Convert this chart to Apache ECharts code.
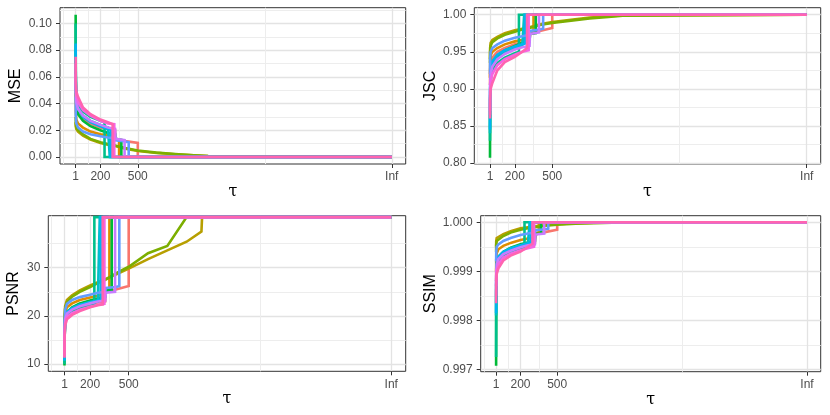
<!DOCTYPE html>
<html>
<head>
<meta charset="utf-8">
<script src="https://cdn.jsdelivr.net/npm/echarts@6/dist/echarts.min.js"></script>
<style>html,body{margin:0;padding:0;background:#fff}#c{width:830px;height:415px}</style>
</head>
<body>
<div id="c"></div>
<script>
// ---------------- DATA ----------------
const TAU_GRID = [1, 2, 6, 20, 60, 120, 200, 260, 318, 322, 400, 500, 650, 800, 950, 1065];
const TAU_INF = 2540;
const xMajorTicks = [1, 200, 500, TAU_INF];
const xMinorTicks = [-98.5, 100.5, 350, 1520];
const seriesNames = ['m1','m2','m3','m4','m5','m6','m7','m8','m9','m10','m11','m12'];
const jumpTau = [500, 350, 1070, 1070, 368, 233, 275, 282, 427, 394, 311, 298];

const mseVals = [
  [0.058, 0.046, 0.039, 0.034, 0.029, 0.025, 0.022, 0.021, 0.020, 0.0135, 0.012, 0.0105],
  [0.048, 0.034, 0.028, 0.025, 0.022, 0.019, 0.017, 0.016, 0.015, 0.013, 0.0125],
  [0.026, 0.023, 0.021, 0.019, 0.016, 0.013, 0.0105, 0.0092, 0.0082, 0.0080, 0.0062, 0.0045, 0.0030, 0.0020, 0.0012, 0.0006, 0.0004],
  [0.030, 0.025, 0.022, 0.020, 0.017, 0.0135, 0.011, 0.0096, 0.0086, 0.0084, 0.0066, 0.0048, 0.0032, 0.0022, 0.0013, 0.0007, 0.0005],
  [0.1065, 0.060, 0.040, 0.032, 0.027, 0.023, 0.020, 0.018, 0.017, 0.0135, 0.0128],
  [0.100, 0.062, 0.047, 0.040, 0.034, 0.030, 0.027, 0.026],
  [0.080, 0.052, 0.042, 0.036, 0.031, 0.027, 0.024, 0.022, 0.0215],
  [0.085, 0.055, 0.043, 0.036, 0.030, 0.026, 0.023, 0.021, 0.0205],
  [0.045, 0.031, 0.025, 0.022, 0.019, 0.017, 0.0155, 0.0145, 0.014, 0.0125, 0.0115, 0.011],
  [0.062, 0.048, 0.041, 0.036, 0.031, 0.027, 0.024, 0.022, 0.021, 0.0135, 0.0125],
  [0.070, 0.054, 0.046, 0.041, 0.035, 0.031, 0.027, 0.025, 0.0245],
  [0.075, 0.057, 0.049, 0.045, 0.037, 0.032, 0.028, 0.026, 0.0245]
];
const jscVals = [
  [0.905, 0.925, 0.935, 0.942, 0.950, 0.955, 0.960, 0.962, 0.964, 0.975, 0.978, 0.982],
  [0.915, 0.935, 0.945, 0.950, 0.955, 0.960, 0.964, 0.966, 0.968, 0.974, 0.975],
  [0.940, 0.955, 0.962, 0.966, 0.970, 0.975, 0.979, 0.981, 0.983, 0.983, 0.987, 0.990, 0.993, 0.996, 0.998, 0.999, 0.9995],
  [0.935, 0.950, 0.958, 0.963, 0.968, 0.973, 0.977, 0.980, 0.982, 0.982, 0.986, 0.989, 0.992, 0.995, 0.997, 0.9985, 0.999],
  [0.807, 0.880, 0.920, 0.935, 0.945, 0.952, 0.958, 0.962, 0.964, 0.974, 0.975],
  [0.830, 0.885, 0.910, 0.925, 0.935, 0.942, 0.948, 0.950],
  [0.840, 0.895, 0.920, 0.932, 0.942, 0.949, 0.955, 0.958, 0.959],
  [0.845, 0.900, 0.925, 0.937, 0.946, 0.952, 0.957, 0.960, 0.961],
  [0.920, 0.940, 0.950, 0.955, 0.960, 0.965, 0.969, 0.971, 0.973, 0.978, 0.980, 0.981],
  [0.870, 0.905, 0.920, 0.930, 0.940, 0.947, 0.953, 0.956, 0.958, 0.974, 0.976],
  [0.865, 0.895, 0.910, 0.920, 0.932, 0.940, 0.946, 0.950, 0.952],
  [0.860, 0.885, 0.900, 0.908, 0.925, 0.936, 0.943, 0.950, 0.955]
];
const psnrVals = [
  [12.4, 16.5, 18.5, 20.0, 21.0, 21.8, 22.5, 22.8, 23.0, 25.0, 25.5, 26.2],
  [13.0, 18.0, 20.5, 21.8, 22.6, 23.3, 23.8, 24.2, 24.5, 25.5, 25.7],
  [15.8, 20.0, 22.0, 23.3, 24.3, 25.3, 26.3, 27.0, 27.6, 27.7, 28.6, 29.8, 31.8, 33.6, 35.4, 37.5, 37.8],
  [15.2, 19.5, 21.5, 22.8, 24.0, 25.0, 26.0, 26.8, 27.5, 27.6, 28.8, 30.2, 33.0, 34.5, 40.5, 40.5, 40.5],
  [9.7, 15.5, 19.0, 20.8, 21.8, 22.6, 23.2, 23.6, 24.0, 25.2, 25.4],
  [10.0, 15.5, 18.5, 20.0, 20.8, 21.5, 22.0, 22.3],
  [10.9, 16.0, 19.0, 20.5, 21.3, 22.0, 22.6, 23.0, 23.1],
  [10.7, 16.2, 19.3, 20.8, 21.6, 22.3, 22.9, 23.2, 23.3],
  [13.5, 19.0, 21.3, 22.5, 23.3, 23.9, 24.4, 24.8, 25.0, 25.8, 26.0, 26.2],
  [12.0, 16.8, 19.3, 20.5, 21.3, 22.0, 22.6, 23.0, 23.2, 24.8, 25.0],
  [11.5, 16.0, 18.5, 19.8, 20.6, 21.3, 21.9, 22.3, 22.5],
  [11.3, 15.5, 18.0, 19.3, 20.2, 21.0, 21.8, 22.2, 22.4]
];
const ssimVals = [
  [0.99880, 0.99905, 0.99918, 0.99928, 0.99938, 0.99946, 0.99953, 0.99956, 0.99958, 0.99975, 0.99980, 0.99985],
  [0.99900, 0.99925, 0.99937, 0.99945, 0.99952, 0.99958, 0.99964, 0.99967, 0.99969, 0.99978, 0.99979],
  [0.99950, 0.99962, 0.99968, 0.99971, 0.99976, 0.99982, 0.99988, 0.99990, 0.99992, 0.99992, 0.99994, 0.99996, 0.99998, 0.99999, 0.999995, 0.999998, 0.999999],
  [0.99940, 0.99955, 0.99962, 0.99966, 0.99972, 0.99979, 0.99985, 0.99988, 0.99990, 0.99990, 0.99993, 0.99995, 0.99997, 0.99998, 0.99999, 0.999995, 0.999997],
  [0.99707, 0.99870, 0.99915, 0.99930, 0.99940, 0.99948, 0.99955, 0.99959, 0.99962, 0.99976, 0.99977],
  [0.99725, 0.99860, 0.99900, 0.99918, 0.99930, 0.99938, 0.99945, 0.99947],
  [0.99810, 0.99880, 0.99910, 0.99925, 0.99935, 0.99942, 0.99950, 0.99954, 0.99955],
  [0.99815, 0.99890, 0.99918, 0.99930, 0.99940, 0.99947, 0.99953, 0.99957, 0.99958],
  [0.99920, 0.99940, 0.99950, 0.99955, 0.99962, 0.99968, 0.99974, 0.99977, 0.99979, 0.99984, 0.99986, 0.99987],
  [0.99870, 0.99900, 0.99915, 0.99925, 0.99935, 0.99942, 0.99949, 0.99953, 0.99955, 0.99975, 0.99977],
  [0.99850, 0.99885, 0.99902, 0.99915, 0.99928, 0.99936, 0.99943, 0.99947, 0.99950],
  [0.99835, 0.99875, 0.99895, 0.99906, 0.99922, 0.99932, 0.99940, 0.99950, 0.99956]
];
const perfectVals = [0, 1, 40.5, 1];

const mseTicks = [0, 0.02, 0.04, 0.06, 0.08, 0.10];
const mseMinor = [0.01, 0.03, 0.05, 0.07, 0.09, 0.11];
const jscTicks = [0.80, 0.85, 0.90, 0.95, 1.00];
const jscMinor = [0.825, 0.875, 0.925, 0.975];
const psnrTicks = [10, 20, 30];
const psnrMinor = [15, 25, 35];
const ssimTicks = [0.997, 0.998, 0.999, 1.000];
const ssimMinor = [0.9975, 0.9985, 0.9995];

// ---------------- STYLE ----------------
const colors = ['#F8766D','#DE8C00','#B79F00','#7CAE00','#00BA38','#00C08B','#00BFC4','#00B4F0','#619CFF','#C77CFF','#F564E3','#FF64B0'];
const FONT = 'Liberation Sans, Arial, sans-serif';
const X_MIN = -124.8, X_MAX = 2652;
const MAJOR_GRID = {color:'#E3E3E3', width:1.3};
const MINOR_GRID = {color:'#EDEDED', width:1};

const panels = [
  {name:'MSE', vals:mseVals, perfect:perfectVals[0], ticks:mseTicks, minor:mseMinor, ymin:-0.0053, ymax:0.1118, fmt:v=>v.toFixed(2), grid:{left:60, top:7.7, width:345.7, height:156.3}, gap:36},
  {name:'JSC', vals:jscVals, perfect:perfectVals[1], ticks:jscTicks, minor:jscMinor, ymin:0.7986, ymax:1.00944, fmt:v=>v.toFixed(2), grid:{left:474.3, top:7.7, width:346.4, height:156.3}, gap:35},
  {name:'PSNR', vals:psnrVals, perfect:perfectVals[2], ticks:psnrTicks, minor:psnrMinor, ymin:8.5, ymax:40.8, fmt:v=>String(v), grid:{left:48.3, top:215.7, width:357.4, height:155.6}, gap:27},
  {name:'SSIM', vals:ssimVals, perfect:perfectVals[3], ticks:ssimTicks, minor:ssimMinor, ymin:0.996951, ymax:1.000135, fmt:v=>v.toFixed(3), grid:{left:480.7, top:215.7, width:340, height:156}, gap:41}
];

function buildPath(vals, j, perfect) {
  const pts = [];
  for (let i = 0; i < vals.length - 1; i++) pts.push([TAU_GRID[i], vals[i]]);
  pts.push([j, vals[vals.length - 1]]);
  pts.push([j, perfect]);
  pts.push([TAU_INF, perfect]);
  return pts;
}

const grids = [], xAxes = [], yAxes = [], series = [];
panels.forEach((p, g) => {
  grids.push(Object.assign({show:true, borderColor:'#333333', borderWidth:1, backgroundColor:'transparent'}, p.grid));
  xAxes.push({
    type:'value', gridIndex:g, min:X_MIN, max:X_MAX, position:'bottom',
    axisLine:{show:false, onZero:false},
    axisTick:{show:true, customValues:xMajorTicks, length:4, lineStyle:{color:'#333333', width:1}},
    axisLabel:{customValues:xMajorTicks, formatter:v => (v === TAU_INF ? 'Inf' : String(v)), color:'#4D4D4D', fontSize:12, margin:7, fontFamily:FONT},
    splitLine:{show:true, lineStyle:MAJOR_GRID},
    name:'τ', nameLocation:'middle', nameGap:20,
    nameTextStyle:{color:'#000', fontSize:16, fontFamily:'DejaVu Serif, serif'}
  });
  xAxes.push({
    type:'value', gridIndex:g, min:X_MIN, max:X_MAX, position:'top',
    axisLine:{show:false, onZero:false},
    axisTick:{show:false, customValues:xMinorTicks},
    axisLabel:{show:false, customValues:xMinorTicks},
    splitLine:{show:true, lineStyle:MINOR_GRID}
  });
  yAxes.push({
    type:'value', gridIndex:g, min:p.ymin, max:p.ymax, position:'left',
    axisLine:{show:false, onZero:false},
    axisTick:{show:true, customValues:p.ticks, length:4, lineStyle:{color:'#333333', width:1}},
    axisLabel:{customValues:p.ticks, formatter:p.fmt, color:'#4D4D4D', fontSize:12, margin:8, fontFamily:FONT},
    splitLine:{show:true, lineStyle:MAJOR_GRID},
    name:p.name, nameLocation:'middle', nameGap:p.gap,
    nameTextStyle:{color:'#000', fontSize:16, fontFamily:FONT}
  });
  yAxes.push({
    type:'value', gridIndex:g, min:p.ymin, max:p.ymax, position:'right',
    axisLine:{show:false, onZero:false},
    axisTick:{show:false, customValues:p.minor},
    axisLabel:{show:false, customValues:p.minor},
    splitLine:{show:true, lineStyle:MINOR_GRID}
  });
  p.vals.forEach((v, s) => {
    series.push({
      type:'line', name:seriesNames[s], xAxisIndex:2*g, yAxisIndex:2*g,
      data:buildPath(v, jumpTau[s], p.perfect),
      showSymbol:false, symbol:'none', silent:true, animation:false,
      lineStyle:{color:colors[s], width:2.6, join:'miter'},
      itemStyle:{color:colors[s]}, clip:true
    });
  });
});

const chart = echarts.init(document.getElementById('c'), null, {renderer:'canvas'});
chart.setOption({
  animation:false,
  backgroundColor:'#ffffff',
  grid:grids, xAxis:xAxes, yAxis:yAxes, series:series
});
</script>
</body>
</html>
